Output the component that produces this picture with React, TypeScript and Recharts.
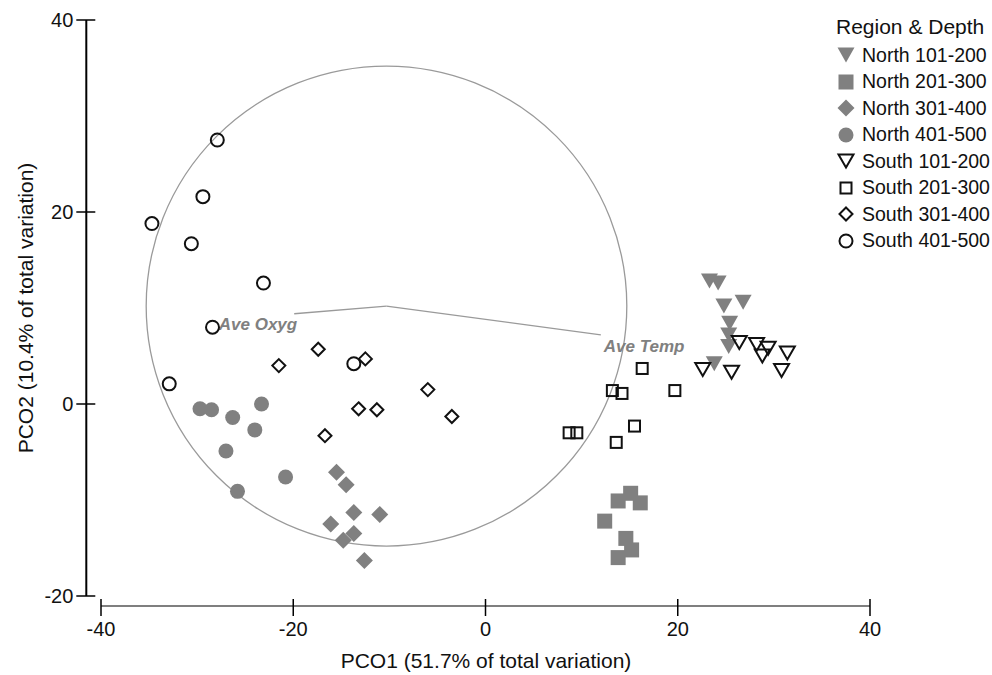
import React from 'react';
import { ScatterChart, Scatter, XAxis, YAxis, ReferenceLine, ReferenceArea, ReferenceDot, Legend } from 'recharts';

type P = { x: number; y: number };

const north101: P[] = [
  { x: 23.3, y: 12.8 }, { x: 24.2, y: 12.6 }, { x: 24.8, y: 10.2 }, { x: 26.8, y: 10.6 },
  { x: 25.4, y: 8.4 }, { x: 25.3, y: 7.2 }, { x: 25.3, y: 6.0 }, { x: 23.8, y: 4.2 },
];
const north201: P[] = [
  { x: 15.1, y: -9.3 }, { x: 13.8, y: -10.1 }, { x: 16.1, y: -10.3 }, { x: 12.4, y: -12.2 },
  { x: 14.6, y: -14.0 }, { x: 15.2, y: -15.2 }, { x: 13.8, y: -16.0 },
];
const north301: P[] = [
  { x: -15.5, y: -7.1 }, { x: -14.5, y: -8.4 }, { x: -13.7, y: -11.3 }, { x: -11.0, y: -11.5 },
  { x: -16.1, y: -12.5 }, { x: -13.7, y: -13.5 }, { x: -14.8, y: -14.2 }, { x: -12.6, y: -16.3 },
];
const north401: P[] = [
  { x: -29.7, y: -0.5 }, { x: -28.5, y: -0.6 }, { x: -26.3, y: -1.4 }, { x: -23.3, y: 0.0 },
  { x: -24.0, y: -2.7 }, { x: -27.0, y: -4.9 }, { x: -20.8, y: -7.6 }, { x: -25.8, y: -9.1 },
];
const south101: P[] = [
  { x: 26.4, y: 6.4 }, { x: 28.2, y: 6.2 }, { x: 29.4, y: 5.8 }, { x: 28.8, y: 5.0 },
  { x: 31.4, y: 5.3 }, { x: 22.6, y: 3.6 }, { x: 25.6, y: 3.3 }, { x: 30.8, y: 3.5 },
];
const south201: P[] = [
  { x: 16.3, y: 3.7 }, { x: 13.2, y: 1.4 }, { x: 14.2, y: 1.1 }, { x: 19.7, y: 1.4 },
  { x: 15.5, y: -2.3 }, { x: 13.6, y: -4.0 }, { x: 8.7, y: -3.0 }, { x: 9.5, y: -3.0 },
];
const south301: P[] = [
  { x: -21.5, y: 4.0 }, { x: -17.4, y: 5.7 }, { x: -12.5, y: 4.7 }, { x: -6.0, y: 1.5 },
  { x: -13.2, y: -0.5 }, { x: -11.3, y: -0.6 }, { x: -3.5, y: -1.3 }, { x: -16.7, y: -3.3 },
];
const south401: P[] = [
  { x: -27.9, y: 27.5 }, { x: -29.4, y: 21.6 }, { x: -34.7, y: 18.8 }, { x: -30.6, y: 16.7 },
  { x: -23.1, y: 12.6 }, { x: -28.4, y: 8.0 }, { x: -32.9, y: 2.1 }, { x: -13.7, y: 4.2 },
];

const xTicks = [-40, -20, 0, 20, 40];
const yTicks = [-20, 0, 20, 40];
const circleCenter: P = { x: -10.3, y: 10.2 };
const circleRadius = 25;
const vectorOxyg: P = { x: -19.9, y: 9.4 };
const vectorTemp: P = { x: 12.0, y: 7.2 };

const FONT = 'Liberation Sans, Arial, Helvetica, sans-serif';
const GRAY = '#808080';
const INK = '#111111';
const LINE_GRAY = '#9a9a9a';

type ShapeKind = 'triDown' | 'square' | 'diamond' | 'circle';

const drawMarker = (kind: ShapeKind, filled: boolean, cx: number, cy: number) => {
  const fill = filled ? GRAY : 'none';
  const stroke = filled ? 'none' : INK;
  const sw = filled ? 0 : 2;
  if (kind === 'circle') {
    const r = filled ? 7.5 : 6.5;
    return <circle cx={cx} cy={cy} r={r} fill={fill} stroke={stroke} strokeWidth={sw} />;
  }
  if (kind === 'square') {
    const h = filled ? 7.5 : 5.5;
    return <rect x={cx - h} y={cy - h} width={2 * h} height={2 * h} fill={fill} stroke={stroke} strokeWidth={sw} />;
  }
  if (kind === 'diamond') {
    const h = filled ? 8.5 : 6.5;
    return (
      <path d={`M${cx},${cy - h}L${cx + h},${cy}L${cx},${cy + h}L${cx - h},${cy}Z`} fill={fill} stroke={stroke} strokeWidth={sw} />
    );
  }
  const w = filled ? 8.5 : 7.5;
  const hh = filled ? 7.5 : 6.5;
  return (
    <path d={`M${cx - w},${cy - hh}L${cx + w},${cy - hh}L${cx},${cy + hh}Z`} fill={fill} stroke={stroke} strokeWidth={sw} strokeLinejoin="miter" />
  );
};

const series = [
  { name: 'North 101-200', data: north101, kind: 'triDown' as ShapeKind, filled: true },
  { name: 'North 201-300', data: north201, kind: 'square' as ShapeKind, filled: true },
  { name: 'North 301-400', data: north301, kind: 'diamond' as ShapeKind, filled: true },
  { name: 'North 401-500', data: north401, kind: 'circle' as ShapeKind, filled: true },
  { name: 'South 101-200', data: south101, kind: 'triDown' as ShapeKind, filled: false },
  { name: 'South 201-300', data: south201, kind: 'square' as ShapeKind, filled: false },
  { name: 'South 301-400', data: south301, kind: 'diamond' as ShapeKind, filled: false },
  { name: 'South 401-500', data: south401, kind: 'circle' as ShapeKind, filled: false },
];

const YTick = (p: any) => {
  const ax = p.x - 14.7;
  return (
    <g>
      <line x1={ax - 10} x2={ax + 9} y1={p.y} y2={p.y} stroke="#000" strokeWidth={1.5} />
      <text x={ax - 13} y={p.y} textAnchor="end" dominantBaseline="central" fontSize={20} fontFamily={FONT} fill={INK}>
        {p.payload.value}
      </text>
    </g>
  );
};

const XTick = (p: any) => {
  const ay = p.y + 10;
  return (
    <g>
      <line x1={p.x} x2={p.x} y1={ay - 7} y2={ay + 10} stroke="#000" strokeWidth={1.5} />
      <text x={p.x} y={ay + 23} textAnchor="middle" dominantBaseline="central" fontSize={20} fontFamily={FONT} fill={INK}>
        {p.payload.value}
      </text>
    </g>
  );
};

const renderLegend = () => (
  <div style={{ fontFamily: FONT, color: INK }}>
    <div style={{ fontSize: 21, height: 31, lineHeight: '31px', whiteSpace: 'nowrap' }}>Region &amp; Depth</div>
    {series.map((s) => (
      <div key={s.name} style={{ display: 'flex', alignItems: 'center', height: 26.5, whiteSpace: 'nowrap' }}>
        <svg width={20} height={20} style={{ marginRight: 6 }}>
          {drawMarker(s.kind, s.filled, 10, 10)}
        </svg>
        <span style={{ fontSize: 19.5 }}>{s.name}</span>
      </div>
    ))}
  </div>
);

export default function App() {
  return (
    <div style={{ position: 'absolute', left: 0, top: 0, width: 992, height: 675, background: '#fff' }}>
      <ScatterChart width={992} height={675} margin={{ top: 20, right: 122, bottom: 19, left: 21 }}>
        <XAxis
          type="number"
          dataKey="x"
          domain={[-40, 40]}
          ticks={xTicks}
          height={60}
          tickSize={0}
          tickMargin={0}
          tickLine={false}
          tick={<XTick />}
          axisLine={{ stroke: '#000', strokeWidth: 1.2, transform: 'translate(0 10)' }}
          allowDataOverflow
          label={{
            content: () => (
              <text x={486} y={660} textAnchor="middle" dominantBaseline="central" fontSize={21} fontFamily={FONT} fill={INK}>
                PCO1 (51.7% of total variation)
              </text>
            ),
          }}
        />
        <YAxis
          type="number"
          dataKey="y"
          domain={[-20, 40]}
          ticks={yTicks}
          width={80}
          tickSize={0}
          tickMargin={0}
          tickLine={false}
          tick={<YTick />}
          axisLine={{ stroke: '#000', strokeWidth: 2, transform: 'translate(-14.7 0)' }}
          allowDataOverflow
          label={{
            content: () => (
              <text
                x={25}
                y={308}
                transform="rotate(-90 25 308)"
                textAnchor="middle"
                dominantBaseline="central"
                fontSize={21}
                fontFamily={FONT}
                fill={INK}
              >
                PCO2 (10.4% of total variation)
              </text>
            ),
          }}
        />
        <ReferenceArea
          x1={circleCenter.x - circleRadius}
          x2={circleCenter.x + circleRadius}
          y1={circleCenter.y - circleRadius}
          y2={circleCenter.y + circleRadius}
          ifOverflow="visible"
          shape={(p: any) => (
            <ellipse
              cx={p.x + p.width / 2}
              cy={p.y + p.height / 2}
              rx={Math.abs(p.width) / 2}
              ry={Math.abs(p.height) / 2}
              fill="none"
              stroke={LINE_GRAY}
              strokeWidth={1.3}
            />
          )}
        />
        <ReferenceLine segment={[circleCenter, vectorOxyg]} stroke={LINE_GRAY} strokeWidth={1.3} ifOverflow="visible" />
        <ReferenceLine segment={[circleCenter, vectorTemp]} stroke={LINE_GRAY} strokeWidth={1.3} ifOverflow="visible" />
        <ReferenceDot
          x={vectorOxyg.x}
          y={vectorOxyg.y}
          r={0}
          ifOverflow="visible"
          shape={(p: any) => (
            <text x={p.cx + 3} y={p.cy + 16} textAnchor="end" fontSize={17} fontWeight="bold" fontStyle="italic" fontFamily={FONT} fill={GRAY}>
              Ave Oxyg
            </text>
          )}
        />
        <ReferenceDot
          x={vectorTemp.x}
          y={vectorTemp.y}
          r={0}
          ifOverflow="visible"
          shape={(p: any) => (
            <text x={p.cx + 3} y={p.cy + 17} textAnchor="start" fontSize={17} fontWeight="bold" fontStyle="italic" fontFamily={FONT} fill={GRAY}>
              Ave Temp
            </text>
          )}
        />
        {series.map((s) => (
          <Scatter
            key={s.name}
            name={s.name}
            data={s.data}
            isAnimationActive={false}
            shape={(p: any) => drawMarker(s.kind, s.filled, p.cx, p.cy)}
          />
        ))}
        <Legend
          layout="vertical"
          align="center"
          verticalAlign="middle"
          wrapperStyle={{ left: 836, top: 11, width: 160 }}
          content={renderLegend}
        />
      </ScatterChart>
    </div>
  );
}
